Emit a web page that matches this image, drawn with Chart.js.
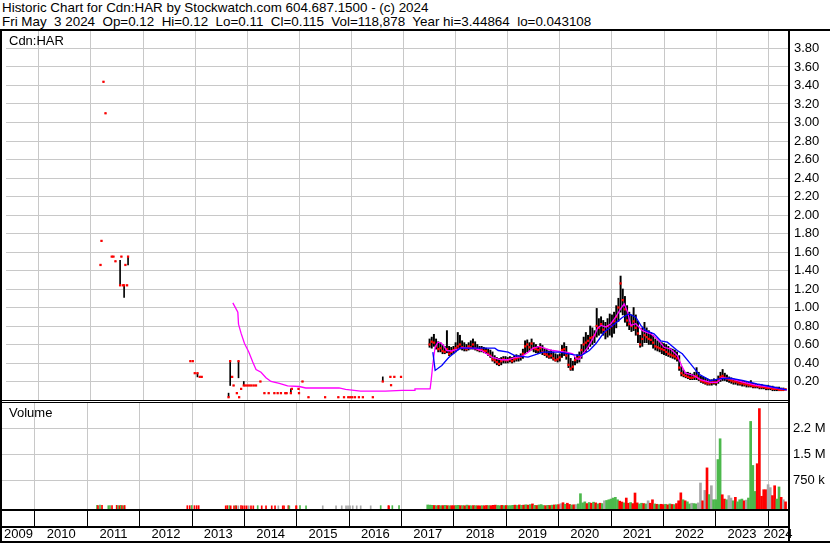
<!DOCTYPE html>
<html>
<head>
    <title>Historic Chart for Cdn:HAR</title>
    <script src="https://cdn.jsdelivr.net/npm/chart.js"></script>
    <style>
        body { margin: 0; background: #fff; font-family: Arial, "Liberation Sans", sans-serif; color: #000; }
        #wrap { position: relative; width: 830px; height: 543px; overflow: hidden; background: #fff; }
        .txt { position: absolute; font-size: 13px; line-height: 14px; white-space: pre; }
        .hd { font-size: 13.4px; }
        .ln { position: absolute; background: #000; z-index: 5; }
        canvas { position: absolute; }
        #price { left: 2px; top: 30px; }
        #volume { left: 2px; top: 402px; }
    </style>
</head>
<body>
<div id="wrap">
    <div class="txt hd" style="left:2px; top:1px;">Historic Chart for Cdn:HAR by Stockwatch.com 604.687.1500 - (c) 2024</div>
    <div class="txt hd" style="left:2px; top:15px;">Fri May  3 2024  Op=0.12  Hi=0.12  Lo=0.11  Cl=0.115  Vol=118,878  Year hi=3.44864  lo=0.043108</div>

    <canvas id="price" width="828" height="370"></canvas>
    <canvas id="volume" width="828" height="141"></canvas>

    <div class="txt" style="left:9px; top:34px; z-index:6;">Cdn:HAR</div>
    <div class="txt" style="left:9px; top:406px; z-index:6;">Volume</div>

    <!-- frame -->
    <div class="ln" style="left:0; top:29px; width:830px; height:2px;"></div>
    <div class="ln" style="left:0; top:29px; width:2px; height:514px;"></div>
    <div class="ln" style="left:788px; top:29px; width:2px; height:514px;"></div>
    <div class="ln" style="left:0; top:400px; width:788px; height:1px;"></div>
    <div class="ln" style="left:0; top:402px; width:788px; height:1px;"></div>
    <div class="ln" style="left:0; top:509px; width:788px; height:2px;"></div>
    <div class="ln" style="left:0; top:526px; width:788px; height:2px;"></div>
    <div class="ln" style="left:0; top:541px; width:830px; height:2px;"></div>
</div>

<script>
    // axis ranges (decimal years) and labels
    const xMin = 2009.37, xMax = 2024.38;
    const yearTicks = [2010, 2011, 2012, 2013, 2014, 2015, 2016, 2017, 2018, 2019, 2020, 2021, 2022, 2023, 2024];
    const yearLabels = ['2009', '2010', '2011', '2012', '2013', '2014', '2015', '2016', '2017', '2018', '2019', '2020', '2021', '2022', '2023', '2024'];
    const volTickVals = [750000, 1500000, 2250000];
    const volTickLabels = ['750 k', '1.5 M', '2.2 M'];

    // sparse trades 2011-2016
    const sDate = [2011.184, 2011.203, 2011.241, 2011.280, 2011.400, 2011.432, 2011.471, 2011.560, 2011.585, 2011.614, 2011.637, 2011.662, 2011.694, 2011.713,
        2012.909, 2012.955, 2012.993, 2013.045, 2013.088, 2013.126,
        2013.642, 2013.673, 2013.711, 2013.738, 2013.801, 2013.833, 2013.845, 2013.883, 2013.934, 2013.967, 2014.005, 2014.043, 2014.081, 2014.125, 2014.169, 2014.253,
        2014.330, 2014.412, 2014.521, 2014.584, 2014.647, 2014.731, 2014.756, 2014.838, 2014.857, 2014.985, 2014.994, 2015.061, 2015.176, 2015.495,
        2015.749, 2015.858, 2015.940, 2015.978, 2016.016, 2016.068, 2016.144, 2016.220, 2016.411, 2016.602, 2016.748, 2016.761, 2016.824, 2016.952];
    const sHigh = [1.46, 1.72, 3.44, 3.10, 1.55, 1.55, 1.50, 1.51, 1.55, 1.24, 1.24, 1.46, 1.24, 1.55,
        0.42, 0.42, 0.29, 0.29, 0.25, 0.25,
        0.074, 0.42, 0.25, 0.157, 0.074, 0.42, 0.03, 0.12, 0.20, 0.157, 0.157, 0.157, 0.157, 0.157, 0.157, 0.20,
        0.074, 0.074, 0.074, 0.074, 0.074, 0.074, 0.074, 0.12, 0.12, 0.12, 0.074, 0.20, 0.03, 0.03,
        0.03, 0.03, 0.03, 0.03, 0.03, 0.03, 0.03, 0.03, 0.03, 0.25, 0.25, 0.16, 0.25, 0.25];
    const sLow = [1.46, 1.72, 3.44, 3.10, 1.55, 1.55, 1.50, 1.24, 1.55, 1.24, 1.11, 1.46, 1.24, 1.46,
        0.42, 0.42, 0.29, 0.25, 0.25, 0.25,
        0.03, 0.157, 0.25, 0.157, 0.074, 0.24, 0.03, 0.12, 0.157, 0.157, 0.157, 0.157, 0.157, 0.157, 0.157, 0.20,
        0.074, 0.074, 0.074, 0.074, 0.074, 0.074, 0.074, 0.074, 0.12, 0.12, 0.074, 0.20, 0.03, 0.03,
        0.03, 0.03, 0.03, 0.03, 0.03, 0.03, 0.03, 0.03, 0.03, 0.20, 0.25, 0.16, 0.25, 0.25];
    const sClose = [1.46, 1.72, 3.44, 3.10, 1.55, 1.55, 1.50, 1.24, 1.55, 1.24, 1.24, 1.46, 1.24, 1.55,
        0.42, 0.42, 0.29, 0.29, 0.25, 0.25,
        0.03, 0.42, 0.25, 0.157, 0.074, 0.42, 0.03, 0.12, 0.157, 0.157, 0.157, 0.157, 0.157, 0.157, 0.157, 0.20,
        0.074, 0.074, 0.074, 0.074, 0.074, 0.074, 0.074, 0.074, 0.12, 0.12, 0.074, 0.20, 0.03, 0.03,
        0.03, 0.03, 0.03, 0.03, 0.03, 0.03, 0.03, 0.03, 0.03, 0.20, 0.25, 0.16, 0.25, 0.25];
    const sVolK = [20, 15, 25, 20, 10, 15, 10, 20, 15, 10, 20, 15, 10, 15,
        10, 10, 15, 10, 10, 10,
        5, 10, 10, 5, 5, 10, 5, 5, 10, 5, 5, 5, 5, 5, 5, 10,
        5, 5, 5, 5, 5, 5, 5, 10, 5, 5, 5, 10, 5, 5,
        5, 5, 5, 5, 5, 5, 5, 5, 5, 10, 10, 5, 10, 10];
    const sDir = 'grgrggrrgrgrgr' + 'rrgrrr' + 'rrgrrgrnrrrrnrrg' + 'rrrrnrrrgrrggn' + 'nnnnnnnnngrrgg';

    // regular trading from mid 2017, two samples per month
    const denseStart = 2017.5, perYear = 24;
    const dHigh = [
        .66, .68, .71, .66, .63, .62, .60, .58, .75, .58, .57, .58,
        .62, .73, .70, .64, .62, .60, .62, .64, .66, .63, .60, .58, .58, .57, .56, .55, .54, .52, .48, .46, .45, .46, .47, .47,
        .46, .47, .46, .48, .49, .48, .50, .55, .64, .65, .62, .66, .62, .60, .58, .61, .59, .56, .55, .53, .54, .52, .50, .49,
        .50, .59, .62, .58, .50, .45, .42, .46, .49, .52, .60, .68, .73, .70, .80, .78, .75, .99, .88, .90, .86, .84, .88, .93,
        .92, .95, 1.02, 1.10, 1.34, 1.20, 1.12, 1.02, .95, .92, 1.00, .92, .85, .70, .78, .84, .78, .75, .73, .70, .66, .64, .63, .62,
        .61, .60, .58, .56, .55, .54, .52, .48, .36, .32, .30, .30, .29, .28, .30, .35, .30, .26, .25, .24, .23, .22, .22, .23,
        .22, .26, .30, .33, .29, .27, .25, .24, .23, .22, .22, .21, .21, .20, .20, .19, .21, .18, .18, .17, .17, .17, .16, .16,
        .16, .15, .15, .14, .14, .14, .13, .13, .12];
    const dLow = [
        .57, .56, .58, .55, .52, .52, .50, .50, .51, .48, .49, .50,
        .52, .54, .55, .54, .53, .53, .54, .55, .55, .54, .53, .52, .52, .51, .50, .48, .46, .42, .40, .38, .37, .38, .40, .40,
        .40, .41, .40, .41, .42, .42, .43, .45, .50, .52, .53, .54, .52, .51, .50, .51, .49, .48, .46, .45, .45, .43, .42, .41,
        .42, .46, .48, .44, .35, .32, .32, .38, .40, .41, .45, .50, .52, .55, .58, .60, .62, .68, .70, .72, .70, .66, .68, .70,
        .68, .72, .78, .85, .95, .92, .84, .80, .76, .74, .75, .70, .62, .57, .58, .62, .62, .60, .60, .56, .54, .53, .52, .50,
        .49, .48, .47, .46, .45, .44, .42, .32, .26, .25, .24, .23, .22, .22, .22, .22, .21, .19, .18, .17, .16, .16, .16, .17,
        .16, .18, .20, .21, .21, .20, .19, .18, .17, .17, .16, .16, .15, .15, .14, .14, .14, .13, .13, .13, .12, .12, .12, .11,
        .11, .11, .10, .10, .10, .10, .10, .10, .11];
    const dClose = [
        .60, .63, .62, .58, .55, .56, .53, .52, .55, .50, .52, .54,
        .56, .58, .60, .57, .56, .55, .58, .57, .60, .56, .55, .54, .55, .53, .53, .50, .48, .44, .43, .41, .39, .42, .44, .43,
        .43, .44, .42, .44, .45, .46, .47, .50, .58, .60, .57, .61, .56, .55, .54, .56, .52, .50, .49, .47, .48, .45, .43, .44,
        .46, .54, .55, .48, .38, .34, .36, .43, .45, .47, .54, .60, .62, .64, .67, .68, .70, .80, .78, .82, .76, .74, .80, .78,
        .80, .85, .90, 1.00, 1.26, 1.08, .98, .86, .82, .80, .85, .78, .72, .60, .66, .70, .68, .66, .65, .62, .58, .57, .56, .55,
        .54, .52, .50, .49, .48, .47, .45, .35, .29, .27, .26, .25, .24, .24, .25, .26, .23, .21, .20, .19, .18, .18, .19, .19,
        .19, .22, .25, .26, .24, .23, .22, .21, .20, .20, .19, .18, .18, .17, .17, .16, .16, .15, .15, .15, .14, .14, .14, .13,
        .13, .13, .12, .12, .12, .11, .11, .11, .115];
    const dVolK = [
        30, 25, 20, 15, 10, 15, 10, 12, 20, 10, 8, 10,
        10, 15, 20, 10, 12, 8, 25, 10, 8, 12, 10, 8, 5, 10, 8, 15, 12, 10, 20, 25, 15, 10, 18, 12,
        15, 10, 12, 20, 25, 15, 30, 20, 25, 35, 25, 40, 60, 20, 15, 30, 40, 15, 10, 20, 15, 25, 30, 35,
        40, 66, 95, 50, 80, 45, 30, 35, 40, 60, 355, 90, 120, 70, 100, 80, 110, 90, 60, 80, 70, 150, 160, 180,
        200, 230, 250, 180, 140, 115, 90, 230, 80, 100, 70, 375, 90, 60, 80, 70, 60, 150, 80, 180, 60, 50, 40, 50,
        40, 50, 35, 60, 45, 40, 70, 150, 380, 180, 150, 120, 60, 80, 70, 60, 90, 663, 150, 450, 1100, 330, 585, 180,
        180, 1340, 1940, 325, 200, 180, 300, 230, 150, 250, 120, 180, 200, 150, 170, 230, 2440, 1170, 420, 1220, 2810, 280, 470, 470,
        615, 530, 300, 585, 200, 550, 250, 180, 120];
    const dDir = 'gggrgrgrgrgr' +
        'rggrgrgrgrgrrgrrgrrrggrg' +
        'rgggrgrgrgrgrgrgggrgrgrg' +
        'rnrgrrgrnggggrgrgrgrgngg' +
        'ggggrrgrrgrrrggrgnrrgrgr' +
        'rgrgrgrrrgrggnggnnrnrgng' +
        'gggrrgnngrgggrnggggrrrrr' +
        'nnrrggrnr';

    // moving averages
    const magX = [2013.724, 2013.820, 2013.833, 2013.883, 2013.948, 2014.030, 2014.106, 2014.169, 2014.265, 2014.360, 2014.456, 2014.616, 2014.775, 2014.998, 2015.124, 2015.762, 2015.888, 2016.175, 2016.652, 2016.971,
        2017.219, 2017.220, 2017.511, 2017.530, 2017.557, 2017.576, 2017.607, 2017.659, 2017.722, 2017.767, 2017.830, 2017.926, 2018.021, 2018.117, 2018.371, 2018.499, 2018.594, 2018.722, 2018.881,
        2019.009, 2019.135, 2019.263, 2019.391, 2019.486, 2019.612, 2019.740, 2019.868, 2019.994, 2020.122, 2020.250, 2020.313, 2020.376, 2020.441, 2020.537, 2020.632, 2020.728, 2020.791, 2020.886, 2020.982,
        2021.077, 2021.173, 2021.236, 2021.301, 2021.364, 2021.459, 2021.587, 2021.746, 2021.873, 2022.000, 2022.128, 2022.256, 2022.351, 2022.414, 2022.573, 2022.701, 2022.892,
        2023.020, 2023.115, 2023.274, 2023.528, 2023.783, 2024.037, 2024.356];
    const magY = [1.05, 0.95, 0.82, 0.72, 0.61, 0.52, 0.41, 0.33, 0.30, 0.24, 0.20, 0.18, 0.153, 0.146, 0.13, 0.13, 0.114, 0.095, 0.095, 0.103,
        0.103, 0.121, 0.121, 0.21, 0.355, 0.446, 0.57, 0.625, 0.615, 0.59, 0.535, 0.53, 0.546, 0.565, 0.557, 0.535, 0.50, 0.457, 0.435,
        0.435, 0.457, 0.47, 0.517, 0.56, 0.58, 0.553, 0.535, 0.525, 0.517, 0.50, 0.446, 0.44, 0.50, 0.57, 0.66, 0.78, 0.806, 0.79, 0.825,
        0.90, 0.99, 1.04, 0.95, 0.806, 0.825, 0.75, 0.716, 0.66, 0.57, 0.55, 0.48, 0.355, 0.29, 0.265, 0.22, 0.19,
        0.19, 0.24, 0.23, 0.19, 0.157, 0.14, 0.11];
    const bluX = [2017.563, 2017.607, 2017.735, 2017.863, 2017.989, 2018.084, 2018.753, 2018.818, 2019.009, 2019.135, 2019.391, 2019.677, 2019.994,
        2020.250, 2020.409, 2020.567, 2020.695, 2020.854, 2021.014, 2021.205, 2021.331, 2021.459, 2021.555, 2021.650, 2021.809, 2021.936,
        2022.064, 2022.256, 2022.351, 2022.510, 2022.668, 2022.892, 2023.083, 2023.274, 2023.528, 2023.783, 2024.037, 2024.356];
    const bluY = [0.517, 0.32, 0.373, 0.457, 0.517, 0.56, 0.56, 0.535, 0.517, 0.48, 0.463, 0.517, 0.517,
        0.49, 0.48, 0.535, 0.61, 0.735, 0.806, 0.895, 0.93, 0.895, 0.806, 0.75, 0.716, 0.64,
        0.625, 0.535, 0.50, 0.39, 0.28, 0.21, 0.23, 0.235, 0.21, 0.175, 0.146, 0.11];

    const FONT = 'Arial, "Liberation Sans", sans-serif';
    Chart.defaults.color = '#000';
    Chart.defaults.font.family = FONT;
    Chart.defaults.font.size = 13;

    const GRID = '#c8c8c8';
    const dirColor = { g: '#4cb84c', r: '#ff0000', n: '#a8a8a8' };
    const volBase = -86500;

    const denseX = dClose.map((_, i) => denseStart + i / perYear);
    const allX = sDate.concat(denseX);
    const allClose = sClose.concat(dClose);

    const yearGrid = s => { s.ticks = yearTicks.map(v => ({ value: v })); };
    const fixSide = w => s => { s.width = w; s.paddingTop = 0; s.paddingBottom = 0; };
    const fixBottom = h => s => { s.height = h; s.paddingLeft = 0; s.paddingRight = 0; };
    const common = {
        responsive: false,
        maintainAspectRatio: false,
        animation: false,
        layout: { padding: 0 },
        plugins: { legend: { display: false }, tooltip: { enabled: false } }
    };

    function priceConfig() {
        return {
            type: 'bar',
            data: {
                datasets: [
                    {
                        type: 'line', order: 0,
                        data: bluX.map((x, i) => ({ x, y: bluY[i] })),
                        borderColor: '#0000ff', borderWidth: 1.3, pointRadius: 0, tension: 0
                    },
                    {
                        type: 'line', order: 1,
                        data: magX.map((x, i) => ({ x, y: magY[i] })),
                        borderColor: '#ff00ff', borderWidth: 1.3, pointRadius: 0, tension: 0
                    },
                    {
                        type: 'line', order: 2, showLine: false,
                        data: allX.map((x, i) => ({ x, y: allClose[i] })),
                        pointStyle: 'rect', pointRadius: 1.6, pointBackgroundColor: '#ff0000', pointBorderWidth: 0
                    },
                    {
                        type: 'bar', order: 3, grouped: false, barThickness: 1.3,
                        data: denseX.map((x, i) => ({ x, y: [dLow[i], dHigh[i]] })),
                        backgroundColor: '#000', borderWidth: 0
                    },
                    {
                        type: 'bar', order: 3, grouped: false, barThickness: 1,
                        data: sDate.map((x, i) => ({ x, y: [sLow[i], sHigh[i]] })),
                        backgroundColor: '#000', borderWidth: 0
                    }
                ]
            },
            options: {
                ...common,
                scales: {
                    x: {
                        type: 'linear', min: xMin, max: xMax, offset: false,
                        afterBuildTicks: yearGrid,
                        afterFit: fixBottom(0),
                        ticks: { display: false },
                        grid: { color: GRID, drawTicks: false, offset: false },
                        border: { display: false }
                    },
                    y: {
                        position: 'right', min: 0, max: 4,
                        afterFit: fixSide(42),
                        ticks: {
                            stepSize: 0.2, padding: 6, autoSkip: false,
                            callback: v => (v > 0.01 && v < 3.99) ? v.toFixed(2) : ''
                        },
                        grid: { color: GRID, drawTicks: false },
                        border: { display: false }
                    }
                }
            }
        };
    }

    function volumeConfig() {
        return {
            type: 'bar',
            data: {
                datasets: [
                    {
                        data: denseX.map((x, i) => ({ x, y: dVolK[i] * 1000 })),
                        backgroundColor: denseX.map((_, i) => dirColor[dDir[i]]),
                        barThickness: 2, grouped: false, borderWidth: 0, base: volBase
                    },
                    {
                        data: sDate.map((x, i) => ({ x, y: sVolK[i] * 1000 })),
                        backgroundColor: sDate.map((_, i) => dirColor[sDir[i]]),
                        barThickness: 1, grouped: false, borderWidth: 0, base: volBase
                    }
                ]
            },
            options: {
                ...common,
                scales: {
                    x: {
                        type: 'linear', position: 'bottom', weight: 0, min: xMin, max: xMax, offset: false,
                        afterBuildTicks: yearGrid,
                        afterFit: fixBottom(17),
                        ticks: { display: false },
                        grid: { color: GRID, tickColor: '#000', tickWidth: 1, tickLength: 17, drawTicks: true, offset: false },
                        border: { display: false }
                    },
                    xl: {
                        type: 'linear', position: 'bottom', weight: 1, min: xMin, max: xMax, offset: false,
                        afterBuildTicks: s => {
                            s.ticks = yearLabels.map(l => {
                                const y0 = +l;
                                const a = Math.max(y0, xMin), b = Math.min(y0 + 1, xMax);
                                return { value: (a + b) / 2 };
                            });
                        },
                        afterFit: fixBottom(17),
                        ticks: { autoSkip: false, maxRotation: 0, padding: 1, callback: (v, i) => yearLabels[i] },
                        grid: { display: false, drawTicks: false },
                        border: { display: false }
                    },
                    y: {
                        position: 'right', min: volBase, max: 3000000,
                        afterBuildTicks: s => { s.ticks = volTickVals.map(v => ({ value: v })); },
                        afterFit: fixSide(42),
                        ticks: { padding: 5, callback: (v, i) => volTickLabels[i] },
                        grid: { color: GRID, drawTicks: false },
                        border: { display: false }
                    }
                }
            }
        };
    }

    // build once, then move/grow the canvas so the plot area sits at [top, bottom] on the page
    function place(id, makeConfig, top, bottom) {
        const canvas = document.getElementById(id);
        let chart = new Chart(canvas, makeConfig());
        const a = chart.chartArea;
        const h = canvas.height + (bottom - top) - (a.bottom - a.top);
        const shift = a.top;
        if (Math.abs(shift) < 0.5 && Math.abs(h - canvas.height) < 0.5) return chart;
        chart.destroy();
        canvas.height = Math.round(h);
        canvas.style.top = (top - shift) + 'px';
        return new Chart(canvas, makeConfig());
    }

    place('price', priceConfig, 30, 400);
    place('volume', volumeConfig, 402, 509);
</script>
</body>
</html>
